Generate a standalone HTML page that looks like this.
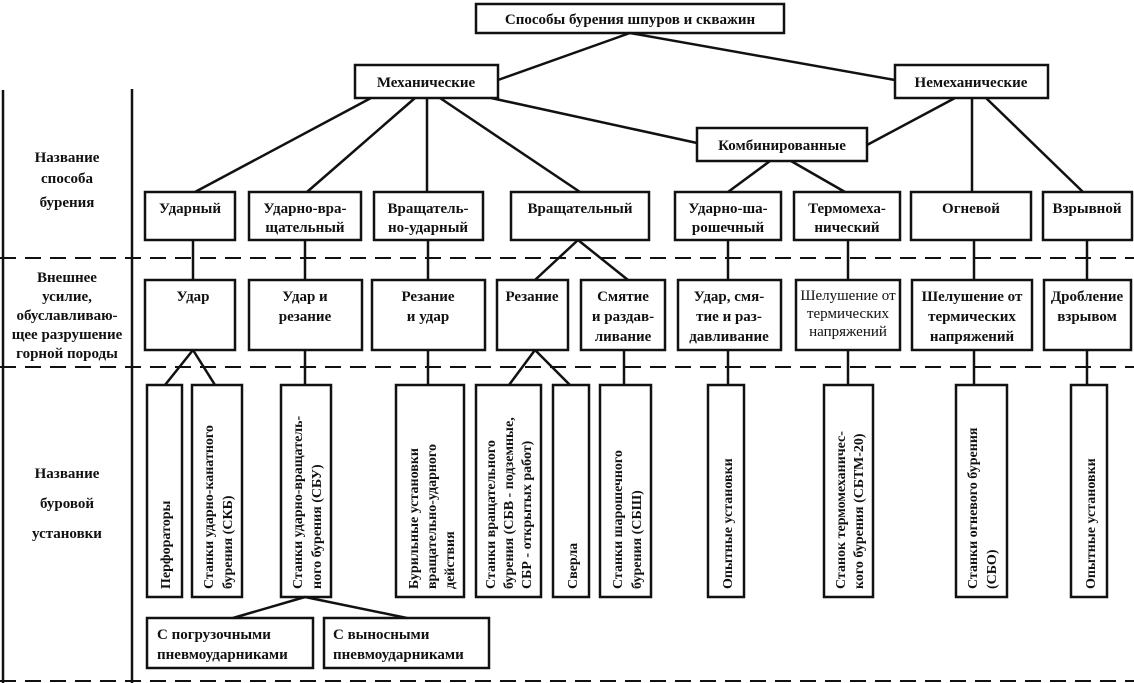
<!DOCTYPE html>
<html><head><meta charset="utf-8"><style>
html,body{margin:0;padding:0;background:#fff;}
svg{display:block;}
text{font-family:"Liberation Serif","DejaVu Serif",serif;font-weight:bold;font-size:15px;fill:#111;}
.v{font-size:14px;}
.n{font-weight:normal;}
</style></head><body>
<svg width="1134" height="683" viewBox="0 0 1134 683" xmlns="http://www.w3.org/2000/svg">
<g stroke="#111" stroke-width="2.5" fill="none">
<!-- frame lines -->
<line x1="3" y1="90" x2="3" y2="683"/>
<line x1="132" y1="89" x2="132" y2="683"/>
<g stroke-dasharray="16,9" stroke-width="2">
<line x1="0" y1="258" x2="1134" y2="258"/>
<line x1="0" y1="367" x2="1134" y2="367"/>
<line x1="0" y1="681" x2="1134" y2="681"/>
</g>
<!-- boxes -->
<rect x="476" y="4" width="308" height="29"/>
<rect x="355" y="65" width="143" height="33"/>
<rect x="895" y="65" width="153" height="33"/>
<rect x="697" y="128" width="170" height="33"/>
<rect x="145" y="192" width="90" height="48"/>
<rect x="249" y="192" width="112" height="48"/>
<rect x="374" y="192" width="109" height="48"/>
<rect x="511" y="192" width="138" height="48"/>
<rect x="675" y="192" width="106" height="48"/>
<rect x="794" y="192" width="106" height="48"/>
<rect x="911" y="192" width="120" height="48"/>
<rect x="1043" y="192" width="89" height="48"/>
<rect x="145" y="280" width="90" height="70"/>
<rect x="249" y="280" width="113" height="70"/>
<rect x="372" y="280" width="113" height="70"/>
<rect x="497" y="280" width="71" height="70"/>
<rect x="581" y="280" width="84" height="70"/>
<rect x="678" y="280" width="103" height="70"/>
<rect x="796" y="280" width="104" height="70"/>
<rect x="912" y="280" width="120" height="70"/>
<rect x="1044" y="280" width="87" height="70"/>
<rect x="147" y="385" width="35" height="212"/>
<rect x="192" y="385" width="50" height="212"/>
<rect x="281" y="385" width="50" height="212"/>
<rect x="396" y="385" width="68" height="212"/>
<rect x="476" y="385" width="65" height="212"/>
<rect x="553" y="385" width="36" height="212"/>
<rect x="600" y="385" width="51" height="212"/>
<rect x="708" y="385" width="36" height="212"/>
<rect x="824" y="385" width="49" height="212"/>
<rect x="956" y="385" width="51" height="212"/>
<rect x="1071" y="385" width="36" height="212"/>
<rect x="147" y="618" width="166" height="50"/>
<rect x="324" y="618" width="165" height="50"/>
<!-- connectors -->
<line x1="630" y1="33" x2="498" y2="80"/>
<line x1="630" y1="33" x2="895" y2="80"/>
<line x1="371" y1="98" x2="195" y2="192"/>
<line x1="415" y1="98" x2="307" y2="192"/>
<line x1="427" y1="98" x2="427" y2="192"/>
<line x1="440" y1="98" x2="580" y2="192"/>
<line x1="491" y1="98" x2="697" y2="143"/>
<line x1="955" y1="98" x2="867" y2="145"/>
<line x1="972" y1="98" x2="972" y2="192"/>
<line x1="986" y1="98" x2="1083" y2="192"/>
<line x1="770" y1="161" x2="728" y2="192"/>
<line x1="791" y1="161" x2="845" y2="192"/>
<line x1="193" y1="240" x2="193" y2="280"/>
<line x1="305" y1="240" x2="305" y2="280"/>
<line x1="428" y1="240" x2="428" y2="280"/>
<line x1="578" y1="240" x2="535" y2="280"/>
<line x1="578" y1="240" x2="628" y2="280"/>
<line x1="728" y1="240" x2="728" y2="280"/>
<line x1="848" y1="240" x2="848" y2="280"/>
<line x1="974" y1="240" x2="974" y2="280"/>
<line x1="1087" y1="240" x2="1087" y2="280"/>
<line x1="193" y1="350" x2="165" y2="385"/>
<line x1="193" y1="350" x2="215" y2="385"/>
<line x1="305" y1="350" x2="305" y2="385"/>
<line x1="428" y1="350" x2="428" y2="385"/>
<line x1="535" y1="350" x2="509" y2="385"/>
<line x1="535" y1="350" x2="570" y2="385"/>
<line x1="624" y1="350" x2="624" y2="385"/>
<line x1="728" y1="350" x2="728" y2="385"/>
<line x1="848" y1="350" x2="848" y2="385"/>
<line x1="974" y1="350" x2="974" y2="385"/>
<line x1="1087" y1="350" x2="1087" y2="385"/>
<line x1="305" y1="597" x2="233" y2="618"/>
<line x1="305" y1="597" x2="407" y2="618"/>
</g>
<!-- left labels -->
<g text-anchor="middle">
<text x="67" y="162">Название</text>
<text x="67" y="183">способа</text>
<text x="67" y="207">бурения</text>
<text x="67" y="282">Внешнее</text>
<text x="67" y="301">усилие,</text>
<text x="67" y="320">обуславливаю-</text>
<text x="67" y="339">щее разрушение</text>
<text x="67" y="358">горной породы</text>
<text x="67" y="478">Название</text>
<text x="67" y="508">буровой</text>
<text x="67" y="538">установки</text>
<!-- top -->
<text x="630" y="24" font-size="14">Способы бурения шпуров и скважин</text>
<text x="426" y="87">Механические</text>
<text x="971" y="87">Немеханические</text>
<text x="782" y="150">Комбинированные</text>
<!-- row1 -->
<text x="190" y="213">Ударный</text>
<text x="305" y="213">Ударно-вра-</text>
<text x="305" y="232">щательный</text>
<text x="428" y="213">Вращатель-</text>
<text x="428" y="232">но-ударный</text>
<text x="580" y="213">Вращательный</text>
<text x="728" y="213">Ударно-ша-</text>
<text x="728" y="232">рошечный</text>
<text x="847" y="213">Термомеха-</text>
<text x="847" y="232">нический</text>
<text x="971" y="213">Огневой</text>
<text x="1087" y="213">Взрывной</text>
<!-- row2 -->
<text x="193" y="301">Удар</text>
<text x="305" y="301">Удар и</text>
<text x="305" y="321">резание</text>
<text x="428" y="301">Резание</text>
<text x="428" y="321">и удар</text>
<text x="532" y="301">Резание</text>
<text x="623" y="301">Смятие</text>
<text x="623" y="321">и раздав-</text>
<text x="623" y="341">ливание</text>
<text x="729" y="301">Удар, смя-</text>
<text x="729" y="321">тие и раз-</text>
<text x="729" y="341">давливание</text>
<text x="848" y="300" class="n" font-size="14">Шелушение от</text>
<text x="848" y="318" class="n" font-size="14">термических</text>
<text x="848" y="336" class="n" font-size="14">напряжений</text>
<text x="972" y="301">Шелушение от</text>
<text x="972" y="321">термических</text>
<text x="972" y="341">напряжений</text>
<text x="1087" y="301">Дробление</text>
<text x="1087" y="321">взрывом</text>
<!-- row4 -->
</g>
<text x="157" y="639">С погрузочными</text>
<text x="157" y="659">пневмоударниками</text>
<text x="333" y="639">С выносными</text>
<text x="333" y="659">пневмоударниками</text>
<!-- vertical texts -->
<g class="v">
<text class="v" transform="translate(170,589) rotate(-90)">Перфораторы</text>
<text class="v" transform="translate(213,589) rotate(-90)">Станки ударно-канатного</text>
<text class="v" transform="translate(232,589) rotate(-90)">бурения (СКБ)</text>
<text class="v" transform="translate(302,589) rotate(-90)">Станки ударно-вращатель-</text>
<text class="v" transform="translate(321,589) rotate(-90)">ного бурения (СБУ)</text>
<text class="v" transform="translate(418,589) rotate(-90)">Бурильные установки</text>
<text class="v" transform="translate(436,589) rotate(-90)">вращательно-ударного</text>
<text class="v" transform="translate(454,589) rotate(-90)">действия</text>
<text class="v" transform="translate(495,589) rotate(-90)">Станки вращательного</text>
<text class="v" transform="translate(513,589) rotate(-90)">бурения (СБВ - подземные,</text>
<text class="v" transform="translate(531,589) rotate(-90)">СБР - открытых работ)</text>
<text class="v" transform="translate(577,589) rotate(-90)">Сверла</text>
<text class="v" transform="translate(622,589) rotate(-90)">Станки шарошечного</text>
<text class="v" transform="translate(641,589) rotate(-90)">бурения (СБШ)</text>
<text class="v" transform="translate(732,589) rotate(-90)">Опытные установки</text>
<text class="v" transform="translate(845,589) rotate(-90)">Станок термомеханичес-</text>
<text class="v" transform="translate(863,589) rotate(-90)">кого бурения (СБТМ-20)</text>
<text class="v" transform="translate(977,589) rotate(-90)">Станки огневого бурения</text>
<text class="v" transform="translate(996,589) rotate(-90)">(СБО)</text>
<text class="v" transform="translate(1095,589) rotate(-90)">Опытные установки</text>
</g>
</svg>
</body></html>
